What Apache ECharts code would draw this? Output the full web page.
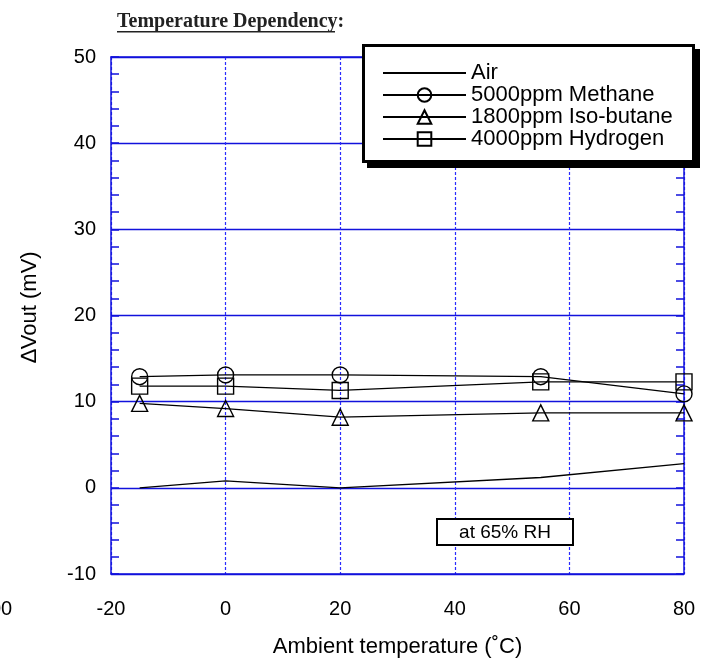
<!DOCTYPE html>
<html><head><meta charset="utf-8">
<script src="https://cdn.jsdelivr.net/npm/echarts/dist/echarts.min.js"></script>
<style>html,body{margin:0;padding:0;background:#fff}#c{width:705px;height:658px}</style>
</head><body><div id="c"></div>
<script>
// ---- data ----
const temps = [-15, 0, 20, 55, 80];
const seriesNames = ['Air', '5000ppm Methane', '1800ppm Iso-butane', '4000ppm Hydrogen'];
const air = [0, 0.8, 0, 1.2, 2.8];
const methane = [12.9, 13.1, 13.1, 12.9, 10.9];
const isobutane = [9.8, 9.2, 8.2, 8.7, 8.7];
const hydrogen = [11.8, 11.8, 11.3, 12.3, 12.3];
const xRange = [-20, 80, 20];
const yRange = [-10, 50, 10];
const titleText = 'Temperature Dependency';
const xName = 'Ambient temperature (˚C)';
const yName = '∆Vout (mV)';
const noteText = 'at 65% RH';

// ---- chart ----
const BLUE = '#1212dc';
const FONT = '"Liberation Sans", Arial, sans-serif';
const pair = v => temps.map((t, i) => [t, v[i]]);
const markerStyle = { color: 'rgba(0,0,0,0)', borderColor: '#000', borderWidth: 1.4 };
function mk(name, vals, symbol) {
  return {
    name, type: 'line', data: pair(vals), symbol: symbol || 'none', symbolSize: 16,
    showSymbol: !!symbol, color: '#000',
    lineStyle: { color: '#000', width: 1.3 },
    itemStyle: markerStyle, emphasis: { disabled: true }, z: 5
  };
}
const chart = echarts.init(document.getElementById('c'), null, { renderer: 'canvas' });
const yMinor = { show: true, splitNumber: 5, length: 8, lineStyle: { color: BLUE, width: 1.5 } };
const hidden = { color: 'rgba(0,0,0,0)', borderColor: 'rgba(0,0,0,0)', borderWidth: 0 };
chart.setOption({
  animation: false,
  backgroundColor: '#fff',
  grid: { left: 111, right: 21, top: 57, bottom: 84, containLabel: false, outerBoundsMode: 'none' },
  xAxis: [{
    type: 'value', min: xRange[0], max: xRange[1], interval: xRange[2],
    name: xName, nameLocation: 'middle', nameGap: 62, nameMoveOverlap: false,
    nameTextStyle: { fontFamily: FONT, fontSize: 22, color: '#000' },
    axisLine: { onZero: false, lineStyle: { color: BLUE, width: 1.5 } },
    axisTick: { show: false },
    axisLabel: { fontFamily: FONT, fontSize: 20, color: '#000', margin: 25 },
    splitLine: { show: true, lineStyle: { color: '#2a2aff', width: 1.2, type: [3, 2] } }
  }, {
    type: 'value', position: 'top', min: xRange[0], max: xRange[1], interval: xRange[2],
    axisLine: { show: true, onZero: false, lineStyle: { color: BLUE, width: 1.5 } },
    axisTick: { show: false }, axisLabel: { show: false }, splitLine: { show: false }
  }],
  yAxis: [{
    type: 'value', min: yRange[0], max: yRange[1], interval: yRange[2],
    axisLine: { show: true, onZero: false, lineStyle: { color: BLUE, width: 1.5 } },
    axisTick: { show: true, inside: true, length: 8, lineStyle: { color: BLUE, width: 1.5 } },
    minorTick: Object.assign({}, yMinor),
    axisLabel: { fontFamily: FONT, fontSize: 20, color: '#000', margin: 15 },
    splitLine: { show: true, lineStyle: { color: BLUE, width: 1.3 } }
  }, {
    type: 'value', position: 'right', min: yRange[0], max: yRange[1], interval: yRange[2],
    axisLine: { show: true, onZero: false, lineStyle: { color: BLUE, width: 1.5 } },
    axisTick: { show: true, inside: true, length: 8, lineStyle: { color: BLUE, width: 1.5 } },
    minorTick: Object.assign({}, yMinor),
    axisLabel: { show: false }, splitLine: { show: false }
  }],
  legend: {
    orient: 'vertical', left: 382, top: 62,
    data: [
      { name: seriesNames[0], itemStyle: hidden },
      { name: seriesNames[1] }, { name: seriesNames[2] }, { name: seriesNames[3] }
    ],
    itemWidth: 83, itemHeight: 17, itemGap: 0,
    padding: 0,
    textStyle: { fontFamily: FONT, fontSize: 22, color: '#000' },
    selectedMode: false, z: 10
  },
  graphic: [
    { type: 'text', x: 117, y: 12, style: { text: titleText + ':', font: 'bold 20px "Liberation Serif", serif', fill: '#222' } },
    { type: 'rect', x: 117, y: 31, shape: { width: 218, height: 1.6 }, style: { fill: '#222' } },
    { type: 'text', x: 30, y: 307, rotation: Math.PI / 2,
      style: { text: yName, font: '22px ' + FONT, fill: '#000', align: 'center', verticalAlign: 'middle', textAlign: 'center', textVerticalAlign: 'middle' } },
    // legend frame with drop shadow
    { type: 'rect', x: 367, y: 49, shape: { width: 333, height: 119 }, style: { fill: '#000' }, z: 8 },
    { type: 'rect', x: 363.5, y: 45.5, shape: { width: 330, height: 116 }, style: { fill: '#fff', stroke: '#000', lineWidth: 3 }, z: 9 },
    // note box
    { type: 'rect', x: 437, y: 519, shape: { width: 136, height: 26 }, style: { fill: '#fff', stroke: '#000', lineWidth: 2 }, z: 20 },
    { type: 'text', x: 505, y: 533, z: 21,
      style: { text: noteText, font: '19px ' + FONT, fill: '#000', align: 'center', verticalAlign: 'middle', textAlign: 'center', textVerticalAlign: 'middle' } },
    { type: 'text', x: -10, y: 599, style: { text: '00', font: '20px ' + FONT, fill: '#000' } }
  ],
  series: [
    mk(seriesNames[0], air, null),
    mk(seriesNames[1], methane, 'circle'),
    mk(seriesNames[2], isobutane, 'triangle'),
    mk(seriesNames[3], hydrogen, 'rect')
  ]
});
</script></body></html>
